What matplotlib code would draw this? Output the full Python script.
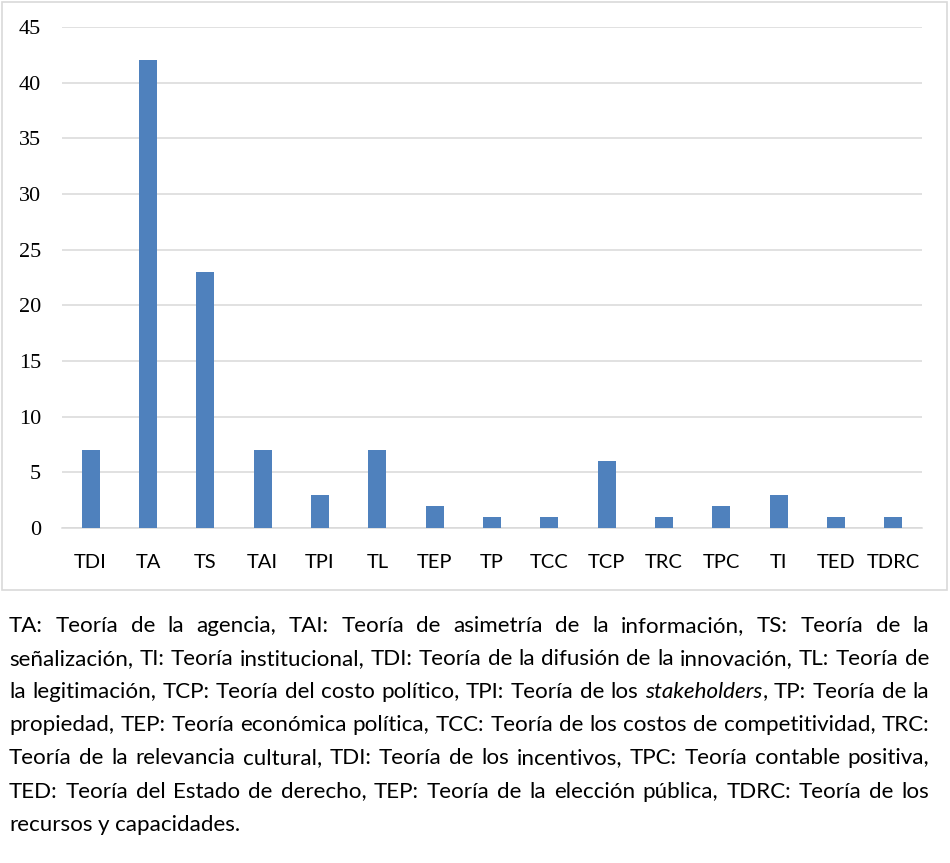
import re
import matplotlib
matplotlib.use("Agg")
import matplotlib.pyplot as plt
from matplotlib.patches import Rectangle
from matplotlib.font_manager import FontProperties

categories = ["TDI", "TA", "TS", "TAI", "TPI", "TL", "TEP", "TP", "TCC", "TCP",
              "TRC", "TPC", "TI", "TED", "TDRC"]
values = [7, 42, 23, 7, 3, 7, 2, 1, 1, 6, 1, 2, 3, 1, 1]
yticks = [0, 5, 10, 15, 20, 25, 30, 35, 40, 45]

caption_lines = [
    "TA: Teoría de la agencia, TAI: Teoría de asimetría de la información, TS: Teoría de la",
    "señalización, TI: Teoría institucional, TDI: Teoría de la difusión de la innovación, TL: Teoría de",
    "la legitimación, TCP: Teoría del costo político, TPI: Teoría de los *stakeholders*, TP: Teoría de la",
    "propiedad, TEP: Teoría económica política, TCC: Teoría de los costos de competitividad, TRC:",
    "Teoría de la relevancia cultural, TDI: Teoría de los incentivos, TPC: Teoría contable positiva,",
    "TED: Teoría del Estado de derecho, TEP: Teoría de la elección pública, TDRC: Teoría de los",
    "recursos y capacidades.",
]

W, H = 950, 863
fig = plt.figure(figsize=(W / 100, H / 100), dpi=100)
fig.patch.set_facecolor("white")

# chart border
fig.patches.append(Rectangle((2 / W, 1 - 590 / H), 945 / W, 588 / H,
                             transform=fig.transFigure, fill=False,
                             edgecolor="#d9d9d9", linewidth=1.2))

ax = fig.add_axes([62 / W, 1 - 528 / H, 860 / W, 501 / H])
x = range(len(categories))
ax.bar(x, values, width=0.31, color="#4f81bd", zorder=3)
ax.set_xlim(-0.5, len(categories) - 0.5)
ax.set_ylim(0, 45)
ax.set_yticks(yticks)
ax.set_yticklabels([str(v) for v in yticks], fontfamily="Liberation Serif", fontsize=16)
ax.set_xticks(list(x))
ax.set_xticklabels(categories, fontfamily="Lato", fontsize=14.5)
ax.tick_params(axis="both", length=0)
ax.tick_params(axis="x", pad=19)
ax.tick_params(axis="y", pad=15)
ax.grid(axis="y", color="#d9d9d9", linewidth=1.1, zorder=0)
for s in ["top", "right", "left"]:
    ax.spines[s].set_visible(False)
ax.spines["bottom"].set_color("#d9d9d9")
ax.spines["bottom"].set_linewidth(1.1)
ax.set_facecolor("none")

# justified caption
renderer = fig.canvas.get_renderer()
family = "Lato"
left, right = 9, 929


def measure(s, size, italic=False):
    fp = FontProperties(family=family, size=size, style="italic" if italic else "normal")
    t = fig.text(0, 0, s, fontproperties=fp)
    w = t.get_window_extent(renderer).width
    t.remove()
    return w


def parse_word(word):
    segs = []
    for part in re.split(r"(\*[^*]+\*)", word):
        if not part:
            continue
        if part.startswith("*"):
            segs.append((part.strip("*"), True))
        else:
            segs.append((part, False))
    return segs


# choose font size so the tightest line fits
size = 13.0
natural = max(measure(l.replace("*", ""), size) for l in caption_lines[1:3])
size = size * (right - left) / natural * 0.995

space_w = measure("a a", size) - measure("aa", size)
baseline0, step = 632, 33.1
for i, line in enumerate(caption_lines):
    words = [parse_word(w) for w in line.split(" ")]
    widths = [[measure(s, size, it) for s, it in segs] for segs in words]
    total = sum(sum(ws) for ws in widths)
    justify = i < len(caption_lines) - 1
    gap = (right - left - total) / (len(words) - 1) if justify else space_w
    xpos = left
    y = 1 - (baseline0 + i * step) / H
    for segs, ws in zip(words, widths):
        for (s, it), w in zip(segs, ws):
            fig.text(xpos / W, y, s, fontfamily=family, fontsize=size,
                     fontstyle="italic" if it else "normal", va="baseline", ha="left")
            xpos += w
        xpos += gap

fig.savefig("out.png", dpi=100, facecolor="white")
